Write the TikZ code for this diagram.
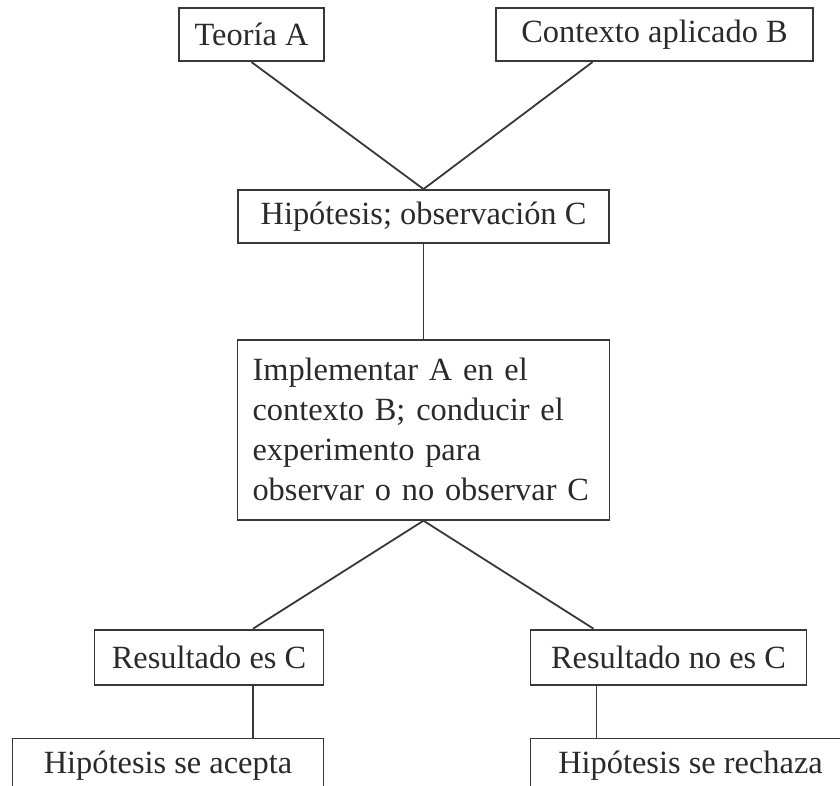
\documentclass[tikz,border=0pt]{standalone}
\usepackage{fontspec}
\setmainfont{Liberation Serif}
\usepackage{tikz}
\usetikzlibrary{positioning,calc}
\definecolor{DiagInk}{HTML}{2A2A2A}
\definecolor{DiagLine}{HTML}{383838}
\tikzset{
  stepbox/.style={draw=DiagLine,line width=1.8pt,align=center,minimum height=53pt,inner sep=0pt,text=DiagInk,font=\fontsize{32.4}{40}\selectfont},
  longbox/.style={stepbox,align=left,text width=342pt,inner xsep=15pt,minimum height=180pt},
  plainlink/.style={line width=1.8pt,draw=DiagLine}
}
\begin{document}
\begin{tikzpicture}[x=1pt,y=-1pt]
  \useasboundingbox (0,0) rectangle (840,786);
  \node[stepbox,minimum width=371pt] (hyp) at (423.5,216.5) {Hipótesis; observación C};
  \node[stepbox,above=127pt of hyp,xshift=-172pt,minimum width=145pt] (teo) {Teoría A};
  \node[stepbox,above=127pt of hyp,xshift=231pt,minimum width=317pt] (ctx) {Contexto aplicado B};
  \draw[plainlink] (teo.south)--(hyp.north);
  \draw[plainlink] ([xshift=-62pt]ctx.south)--(hyp.north);

  \node[longbox,below=95pt of hyp] (impl) {Implementar A en el\\contexto B; conducir el\\experimento para\\observar o no observar C};
  \draw[plainlink] (hyp.south)--(impl.north);

  \node[stepbox,minimum height=55pt,below=108pt of impl,xshift=-214.5pt,minimum width=229pt] (resA) {Resultado es C};
  \node[stepbox,minimum height=55pt,below=108pt of impl,xshift=245pt,minimum width=276pt] (resB) {Resultado no es C};
  \draw[plainlink] (impl.south)--([xshift=44pt]resA.north);
  \draw[plainlink] (impl.south)--([xshift=-75pt]resB.north);

  \node[stepbox,minimum height=55pt,below=52pt of resA,xshift=-41pt,minimum width=311pt] (accA) {Hipótesis se acepta};
  \node[stepbox,minimum height=55pt,below=52pt of resB,xshift=22pt,minimum width=320pt] (accB) {Hipótesis se rechaza};
  \coordinate (rA) at ([xshift=44pt]resA.south);
  \coordinate (rB) at ([xshift=-72pt]resB.south);
  \draw[plainlink] (rA)--(rA |- accA.north);
  \draw[plainlink] (rB)--(rB |- accB.north);
\end{tikzpicture}
\end{document}
